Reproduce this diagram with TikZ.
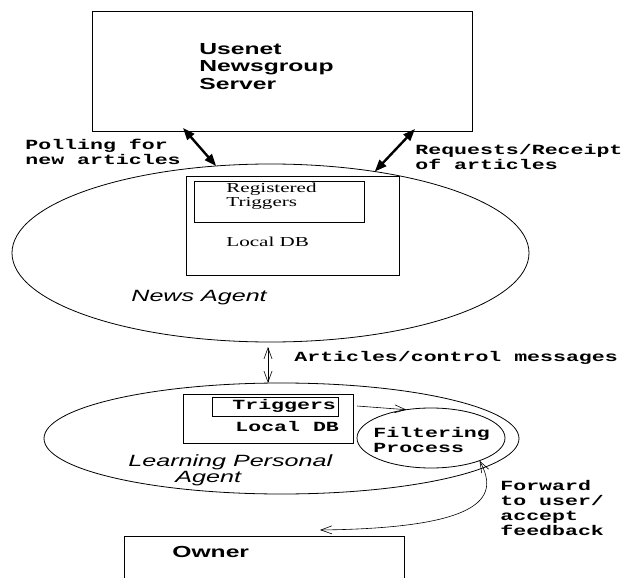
\documentclass[tikz,border=0pt]{standalone}
\usepackage{fontspec}
\newfontfamily\figsans[FakeStretch=1.54]{Liberation Sans}
\newfontfamily\figmono[FakeStretch=1.54]{Liberation Mono}
\newfontfamily\figserif[FakeStretch=1.54]{Liberation Serif}
\usetikzlibrary{arrows.meta,shapes.geometric}

\begin{document}
\begin{tikzpicture}[x=1pt,y=-1pt,line width=0.8pt,
  box/.style={draw,rectangle,inner sep=0pt,outer sep=0pt},
  agent/.style={draw,ellipse,inner sep=0pt,outer sep=0pt},
  boxtitle/.style={anchor=west,align=left,inner sep=0pt,font=\figsans\bfseries\fontsize{16}{17.5}\selectfont},
  msgtext/.style={anchor=west,align=left,inner sep=0pt,font=\figmono\bfseries\fontsize{14}{14.8}\selectfont},
  dbtext/.style={anchor=west,align=left,inner sep=0pt,font=\figserif\fontsize{13.7}{14}\selectfont},
  agenttext/.style={anchor=west,align=left,inner sep=0pt,font=\figsans\itshape\fontsize{16.3}{16}\selectfont},
  bigarrow/.style={{Triangle[length=12pt,width=9pt]}-{Triangle[length=12pt,width=9pt]},line width=2.4pt},
  thinboth/.style={{Straight Barb[length=11pt,width=8pt]}-{Straight Barb[length=11pt,width=8pt]},line width=0.6pt},
  thinto/.style={-{Straight Barb[length=11pt,width=8pt]},line width=0.6pt}]
\useasboundingbox (0,0) rectangle (622,578);
\clip (0,0) rectangle (622,578);
\node [box, minimum width=380, minimum height=120] (server) at (282,71) {};
\node [boxtitle] (servername) at (199,66.5) {Usenet\\Newsgroup\\Server};
\node [agent, minimum width=517, minimum height=178] (news) at (270.5,253) {};
\node [box, minimum width=213, minimum height=99] (newsdb) at (292.5,225.5) {};
\node [box, minimum width=170, minimum height=41] (regbox) at (279,201.5) {};
\node [dbtext] (regtext) at (226,196) {Registered\\Triggers};
\node [dbtext] (newsdbtext) at (226,242) {Local DB};
\node [agenttext] (newsname) at (131,298) {News Agent};
\node [msgtext] (polltext) at (25,151.5) {Polling for\\new articles};
\node [msgtext] (reqtext) at (415,157) {Requests/Receipt\\of articles};
\draw [bigarrow] ([xshift=-99pt,yshift=3pt]server.south) -- (news.122);
\draw [bigarrow] ([xshift=133pt,yshift=2pt]server.south) -- (news.38);
\node [agent, minimum width=475, minimum height=111] (lpa) at (281.5,438.5) {};
\node [box, minimum width=170, minimum height=49] (lpadb) at (268,418.5) {};
\node [box, minimum width=126, minimum height=19] (trigbox) at (275,406.5) {};
\node [msgtext] (trigtext) at (232,406) {Triggers};
\node [msgtext] (lpadbtext) at (235,426) {Local DB};
\node [agent, minimum width=148, minimum height=60] (filter) at (431,438) {};
\node [msgtext] (filtertext) at (373,440) {Filtering\\Process};
\node [agenttext] (lpaname) at (128,470) {Learning Personal\\\hspace*{47pt}Agent};
\draw [thinboth] ([xshift=-2.5pt,yshift=-5pt]news.south) -- ([xshift=-2.5pt]news.south |- lpa.north);
\node [msgtext] (arttext) at (294,358) {Articles/control messages};
\draw [thinto] ([xshift=4pt,yshift=-12pt]lpadb.north east) -- (filter.131);
\node [box, minimum width=280, minimum height=84] (owner) at (264,578) {};
\node [boxtitle] (ownername) at (172,552) {Owner};
\coordinate (fwdend) at ([xshift=56pt,yshift=6pt]owner.north);
\draw [thinboth] (fwdend) .. controls (490,528) and (498,495) .. (filter.-25);
\node [msgtext, font=\figmono\bfseries\fontsize{14}{15.3}\selectfont] (fwdtext) at (500,508) {Forward\\to user/\\accept\\feedback};
\end{tikzpicture}
\end{document}
